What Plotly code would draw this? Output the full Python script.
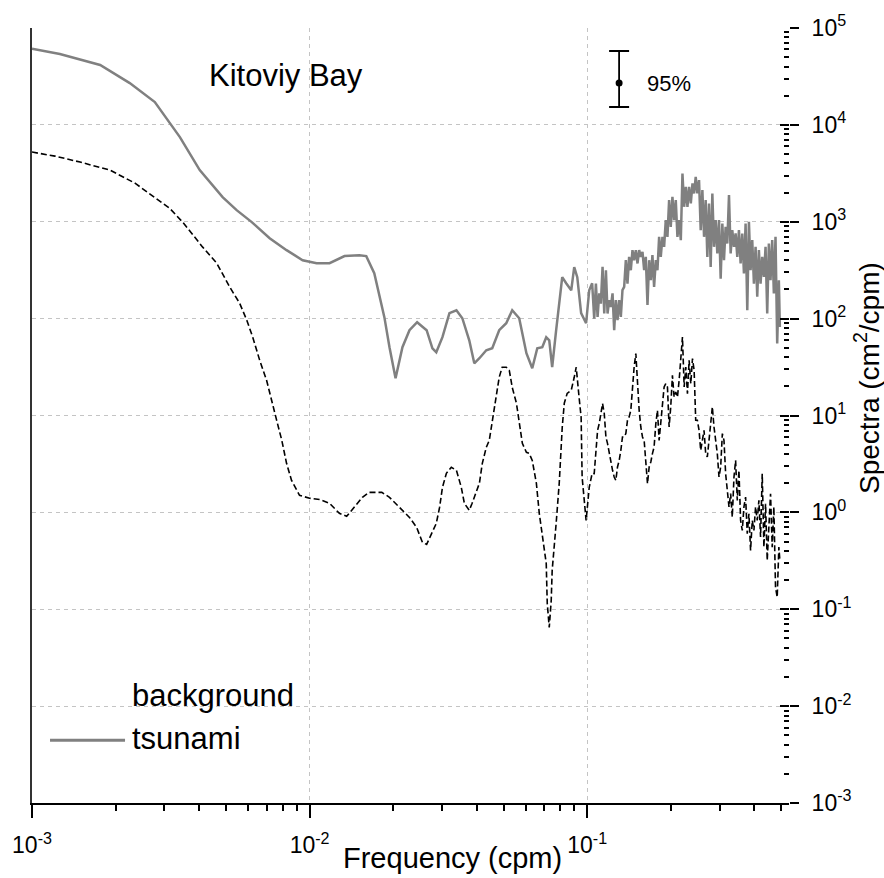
import plotly.graph_objects as go

# ---- data (frequency in cpm, spectra in cm^2/cpm) ----
# low-frequency part of the tsunami spectrum
tsunami_lf_freq = [1e-3, 1.26e-3, 1.76e-3, 2.25e-3, 2.77e-3, 3.41e-3, 4.02e-3, 4.30e-3, 4.86e-3, 5.46e-3,
                   6.19e-3, 7.18e-3, 8.26e-3, 9.44e-3, 1.06e-2, 1.18e-2, 1.336e-2, 1.51e-2, 1.60e-2, 1.71e-2,
                   1.79e-2, 1.86e-2, 1.94e-2, 2.04e-2, 2.16e-2, 2.29e-2, 2.44e-2, 2.64e-2, 2.77e-2, 2.86e-2,
                   3.01e-2, 3.19e-2, 3.38e-2, 3.55e-2, 3.76e-2, 3.92e-2, 4.09e-2, 4.33e-2, 4.55e-2, 4.82e-2,
                   5.11e-2, 5.37e-2, 5.69e-2, 6.04e-2, 6.34e-2, 6.61e-2, 6.89e-2, 7.12e-2, 7.30e-2, 7.48e-2,
                   7.73e-2, 7.93e-2, 8.13e-2, 8.40e-2, 8.76e-2, 8.98e-2, 9.21e-2, 9.51e-2, 9.91e-2, 0.1017,
                   0.1042]
tsunami_lf_spec = [61000, 53800, 41500, 27000, 17200, 7480, 3410, 2690, 1795, 1318,
                   991, 677, 509, 401, 373, 373, 442, 452, 442, 294,
                   166, 103, 50.7, 24.2, 50.7, 75.9, 91.8, 75.9, 49.4, 45.0,
                   64.3, 114, 122, 101, 59.8, 34.6, 39.0, 47.2, 49.4, 75.9,
                   89.6, 122, 101, 44.0, 30.7, 49.4, 50.7, 64.3, 59.8, 31.5,
                   75.9, 155, 268, 232, 196, 340, 268, 114, 89.6, 196,
                   232]

# low-frequency part of the background spectrum
background_lf_freq = [1e-3, 1.21e-3, 1.49e-3, 1.91e-3, 2.35e-3, 2.77e-3, 3.13e-3, 3.49e-3, 4.12e-3, 4.63e-3,
                      5.16e-3, 5.60e-3, 5.94e-3, 6.24e-3, 6.61e-3, 7.00e-3, 7.18e-3, 7.61e-3, 7.94e-3, 8.26e-3,
                      8.61e-3, 9.20e-3, 1.0e-2, 1.087e-2, 1.18e-2, 1.28e-2, 1.36e-2, 1.45e-2, 1.55e-2, 1.64e-2,
                      1.82e-2, 1.94e-2, 2.11e-2, 2.29e-2, 2.43e-2, 2.55e-2, 2.64e-2, 2.77e-2, 2.86e-2, 2.94e-2,
                      3.01e-2, 3.11e-2, 3.24e-2, 3.38e-2, 3.52e-2, 3.61e-2, 3.76e-2, 3.85e-2, 4.09e-2, 4.19e-2,
                      4.33e-2, 4.44e-2, 4.55e-2, 4.63e-2, 4.71e-2, 4.82e-2, 4.94e-2, 5.11e-2, 5.24e-2, 5.37e-2,
                      5.56e-2, 5.69e-2, 5.84e-2, 6.04e-2, 6.18e-2, 6.34e-2, 6.56e-2, 6.72e-2, 6.89e-2, 7.12e-2,
                      7.18e-2, 7.30e-2, 7.42e-2, 7.48e-2, 7.73e-2, 7.93e-2, 8.13e-2, 8.27e-2, 8.47e-2, 8.76e-2,
                      8.98e-2, 9.13e-2, 9.35e-2, 9.51e-2, 9.59e-2, 9.91e-2, 0.1017, 0.1042]
background_lf_spec = [5240, 4760, 4130, 3410, 2500, 1795, 1380, 991, 547, 373,
                      211, 144, 96.2, 64.3, 37.2, 23.1, 16.9, 8.91, 5.55, 3.21,
                      2.14, 1.50, 1.40, 1.36, 1.24, 0.977, 0.910, 1.13, 1.43, 1.61,
                      1.61, 1.43, 1.13, 0.887, 0.700, 0.490, 0.467, 0.621, 0.769, 1.13,
                      1.81, 2.53, 2.92, 2.72, 1.81, 1.24, 1.05, 1.24, 2.0, 3.21,
                      4.69, 5.55, 8.91, 12.2, 16.9, 24.8, 31.5, 31.5, 29.3, 19.5,
                      13.4, 8.30, 5.16, 4.17, 4.07, 3.44, 2.0, 0.977, 0.552, 0.297,
                      0.115, 0.0649, 0.123, 0.252, 0.769, 2.0, 7.55, 13.4, 16.9, 18.2,
                      24.8, 31.5, 15.4, 9.57, 2.30, 0.826, 1.81, 2.53]

# high-frequency part (common frequency grid for both series)
hf_freq = [0.1060, 0.1075, 0.1090, 0.1105, 0.1120, 0.1136, 0.1152, 0.1168, 0.1184, 0.1200,
           0.1217, 0.1234, 0.1251, 0.1268, 0.1286, 0.1304, 0.1322, 0.1340, 0.1359, 0.1378,
           0.1397, 0.1416, 0.1436, 0.1456, 0.1476, 0.1497, 0.1518, 0.1539, 0.1560, 0.1582,
           0.1604, 0.1626, 0.1649, 0.1672, 0.1695, 0.1718, 0.1742, 0.1767, 0.1791, 0.1816,
           0.1841, 0.1867, 0.1893, 0.1919, 0.1946, 0.1973, 0.2000, 0.2028, 0.2056, 0.2085,
           0.2114, 0.2144, 0.2174, 0.2204, 0.2235, 0.2266, 0.2297, 0.2329, 0.2362, 0.2395,
           0.2428, 0.2460, 0.2494, 0.2529, 0.2564, 0.2600, 0.2636, 0.2672, 0.2709, 0.2747,
           0.2785, 0.2824, 0.2863, 0.2903, 0.2943, 0.2984, 0.3026, 0.3068, 0.3110, 0.3153,
           0.3197, 0.3242, 0.3287, 0.3332, 0.3379, 0.3425, 0.3473, 0.3521, 0.3570, 0.3620,
           0.3670, 0.3721, 0.3773, 0.3825, 0.3878, 0.3932, 0.3987, 0.4042, 0.4098, 0.4155,
           0.4213, 0.4271, 0.4331, 0.4391, 0.4452, 0.4513, 0.4576, 0.4640, 0.4704, 0.4769,
           0.4836, 0.4903, 0.4944]
tsunami_hf_spec = [100, 230, 104, 182, 143, 342, 113, 316, 113, 155,
                   132, 182, 75.9, 155, 96.3, 155, 104, 197, 213, 401,
                   230, 434, 316, 509, 401, 509, 371, 509, 434, 489,
                   316, 434, 138, 401, 249, 452, 213, 401, 316, 699,
                   434, 699, 551, 1039, 699, 1672, 886, 1809, 1039, 1672,
                   699, 1039, 646, 3153, 1427, 2296, 1427, 2296, 1544, 2486,
                   1959, 2912, 1959, 2690, 819, 2121, 699, 1672, 434, 1544,
                   342, 1959, 551, 1039, 470, 1039, 259, 960, 401, 886,
                   596, 1883, 470, 819, 551, 757, 434, 819, 371, 757,
                   292, 960, 122, 998, 316, 646, 230, 551, 168, 509,
                   230, 434, 270, 551, 113, 596, 249, 646, 182, 699,
                   55.3, 249, 82.1]
background_hf_spec = [2.51, 4.37, 7.03, 8.24, 10.5, 13.3, 10.5, 6.00, 5.12, 4.04,
                      3.44, 2.72, 2.32, 2.14, 2.94, 3.44, 4.37, 6.00, 6.00, 6.50,
                      8.92, 9.66, 11.3, 19.7, 31.7, 43.6, 19.7, 11.3, 7.61, 6.00,
                      5.54, 2.94, 1.98, 2.94, 3.31, 4.04, 4.73, 8.24, 11.3, 5.54,
                      8.92, 14.4, 19.7, 21.3, 19.7, 7.61, 12.3, 26.0, 15.5, 17.5,
                      15.5, 23.1, 37.2, 64.7, 19.7, 31.7, 16.8, 37.2, 21.3, 38.7,
                      29.3, 8.92, 8.92, 7.03, 4.37, 5.54, 7.03, 4.04, 3.73, 5.54,
                      8.24, 12.3, 7.61, 5.54, 4.04, 2.32, 2.94, 6.50, 5.54, 2.51,
                      1.69, 1.14, 1.56, 0.895, 2.32, 3.44, 1.33, 2.72, 0.827, 0.652,
                      1.14, 1.44, 0.602, 0.969, 0.405, 0.827, 0.652, 1.14, 0.827, 1.33,
                      0.556, 2.51, 0.438, 1.23, 0.319, 0.827, 1.56, 0.438, 1.14, 0.169,
                      0.133, 0.438, 0.319]

# 95% confidence interval marker
ci_freq = [0.1303]
ci_center = [27000]
ci_plus = [30900]
ci_minus = [11700]

y_tickvals = [1e-3, 1e-2, 1e-1, 1, 10, 100, 1e3, 1e4, 1e5]
y_ticktext = ["10<sup>-3</sup>", "10<sup>-2</sup>", "10<sup>-1</sup>", "10<sup>0</sup>", "10<sup>1</sup>",
              "10<sup>2</sup>", "10<sup>3</sup>", "10<sup>4</sup>", "10<sup>5</sup>"]
x_tickvals = [1e-3, 1e-2, 1e-1]
x_ticktext = ["10<sup>-3</sup>", "10<sup>-2</sup>", "10<sup>-1</sup>"]
minor_digits = [2, 3, 4, 5, 6, 7, 8, 9]
y_minor = [d * 10.0 ** k for k in range(-3, 5) for d in minor_digits]
x_minor = [d * 10.0 ** k for k in range(-3, 0) for d in minor_digits]

tsunami_freq = tsunami_lf_freq + hf_freq
tsunami_spec = tsunami_lf_spec + tsunami_hf_spec
background_freq = background_lf_freq + hf_freq
background_spec = background_lf_spec + background_hf_spec

FONT = "Liberation Sans, Arial, sans-serif"
GRID = "#c4c4c4"

fig = go.Figure()
fig.add_trace(go.Scatter(x=tsunami_freq, y=tsunami_spec, mode="lines", name="tsunami",
                         line=dict(color="#808080", width=2.5), showlegend=False))
fig.add_trace(go.Scatter(x=background_freq, y=background_spec, mode="lines", name="background",
                         line=dict(color="black", width=1.6, dash="6px,3px"), showlegend=False))
fig.add_trace(go.Scatter(x=ci_freq, y=ci_center, mode="markers", showlegend=False,
                         marker=dict(color="black", size=7),
                         error_y=dict(type="data", symmetric=False, array=ci_plus, arrayminus=ci_minus,
                                      color="black", thickness=1.8, width=10)))

fig.update_layout(
    width=884, height=878,
    margin=dict(l=32, r=95, t=28, b=75),
    paper_bgcolor="white", plot_bgcolor="white",
    font=dict(family=FONT, color="black"),
    xaxis=dict(type="log", range=[-3, -0.273], tickmode="array", tickvals=x_tickvals, ticktext=x_ticktext,
               automargin=False,
               showgrid=True, gridcolor=GRID, griddash="4px,4px", gridwidth=1,
               showline=True, linecolor="black", linewidth=1.5,
               ticks="outside", ticklen=13, tickwidth=1.5, tickcolor="black",
               tickfont=dict(size=23), ticklabelstandoff=8,
               minor=dict(tickmode="array", tickvals=x_minor, ticks="outside", ticklen=6,
                          tickwidth=1.5, tickcolor="black", showgrid=False),
               zeroline=False),
    yaxis=dict(type="log", range=[-3, 5], side="right", tickmode="array", tickvals=y_tickvals,
               ticktext=y_ticktext, automargin=False,
               showgrid=True, gridcolor=GRID, griddash="4px,4px", gridwidth=1,
               showline=False, ticks="outside", ticklen=9, tickwidth=1.5, tickcolor="black",
               tickfont=dict(size=23), ticklabelstandoff=8,
               minor=dict(tickmode="array", tickvals=y_minor, ticks="inside", ticklen=5,
                          tickwidth=1.5, tickcolor="black", showgrid=False),
               zeroline=False),
    yaxis2=dict(type="log", range=[-3, 5], side="right", overlaying="y", tickmode="array",
                tickvals=y_tickvals, automargin=False,
                showticklabels=False, showgrid=False, showline=False,
                ticks="inside", ticklen=9, tickwidth=1.5, tickcolor="black", zeroline=False),
    yaxis3=dict(type="log", range=[-3, 5], side="left", overlaying="y", showticklabels=False,
                automargin=False,
                showgrid=False, showline=True, linecolor="#333333", linewidth=2, ticks="",
                zeroline=False),
)

# invisible helpers so the overlay axes are drawn
fig.add_trace(go.Scatter(x=[1e-3], y=[1], yaxis="y2", mode="markers", marker=dict(opacity=0),
                         showlegend=False, hoverinfo="skip"))
fig.add_trace(go.Scatter(x=[1e-3], y=[1], yaxis="y3", mode="markers", marker=dict(opacity=0),
                         showlegend=False, hoverinfo="skip"))

annotations = [
    dict(text="Kitoviy Bay", x=0.231, y=0.939, xref="paper", yref="paper", xanchor="left",
         yanchor="middle", showarrow=False, font=dict(size=31, family=FONT)),
    dict(text="95%", x=0.81, y=0.929, xref="paper", yref="paper", xanchor="left",
         yanchor="middle", showarrow=False, font=dict(size=22, family=FONT)),
    dict(text="background", x=0.1295, y=0.139, xref="paper", yref="paper", xanchor="left",
         yanchor="middle", showarrow=False, font=dict(size=31, family=FONT)),
    dict(text="tsunami", x=0.1295, y=0.083, xref="paper", yref="paper", xanchor="left",
         yanchor="middle", showarrow=False, font=dict(size=31, family=FONT)),
    dict(text="Frequency (cpm)", x=0.556, y=-0.071, xref="paper", yref="paper", xanchor="center",
         yanchor="middle", showarrow=False, font=dict(size=29, family=FONT)),
    dict(text="Spectra (cm<sup>2</sup>/cpm)", x=1.104, y=0.548, xref="paper", yref="paper",
         xanchor="center", yanchor="middle", textangle=-90, showarrow=False,
         font=dict(size=28, family=FONT)),
]
fig.update_layout(annotations=annotations)
fig.add_shape(type="line", xref="paper", yref="paper", x0=0.0238, x1=0.1229, y0=0.081, y1=0.081,
              line=dict(color="#808080", width=3))

fig.write_html("out.html", config={"displayModeBar": False},
               post_script="document.body.style.margin='0';")
